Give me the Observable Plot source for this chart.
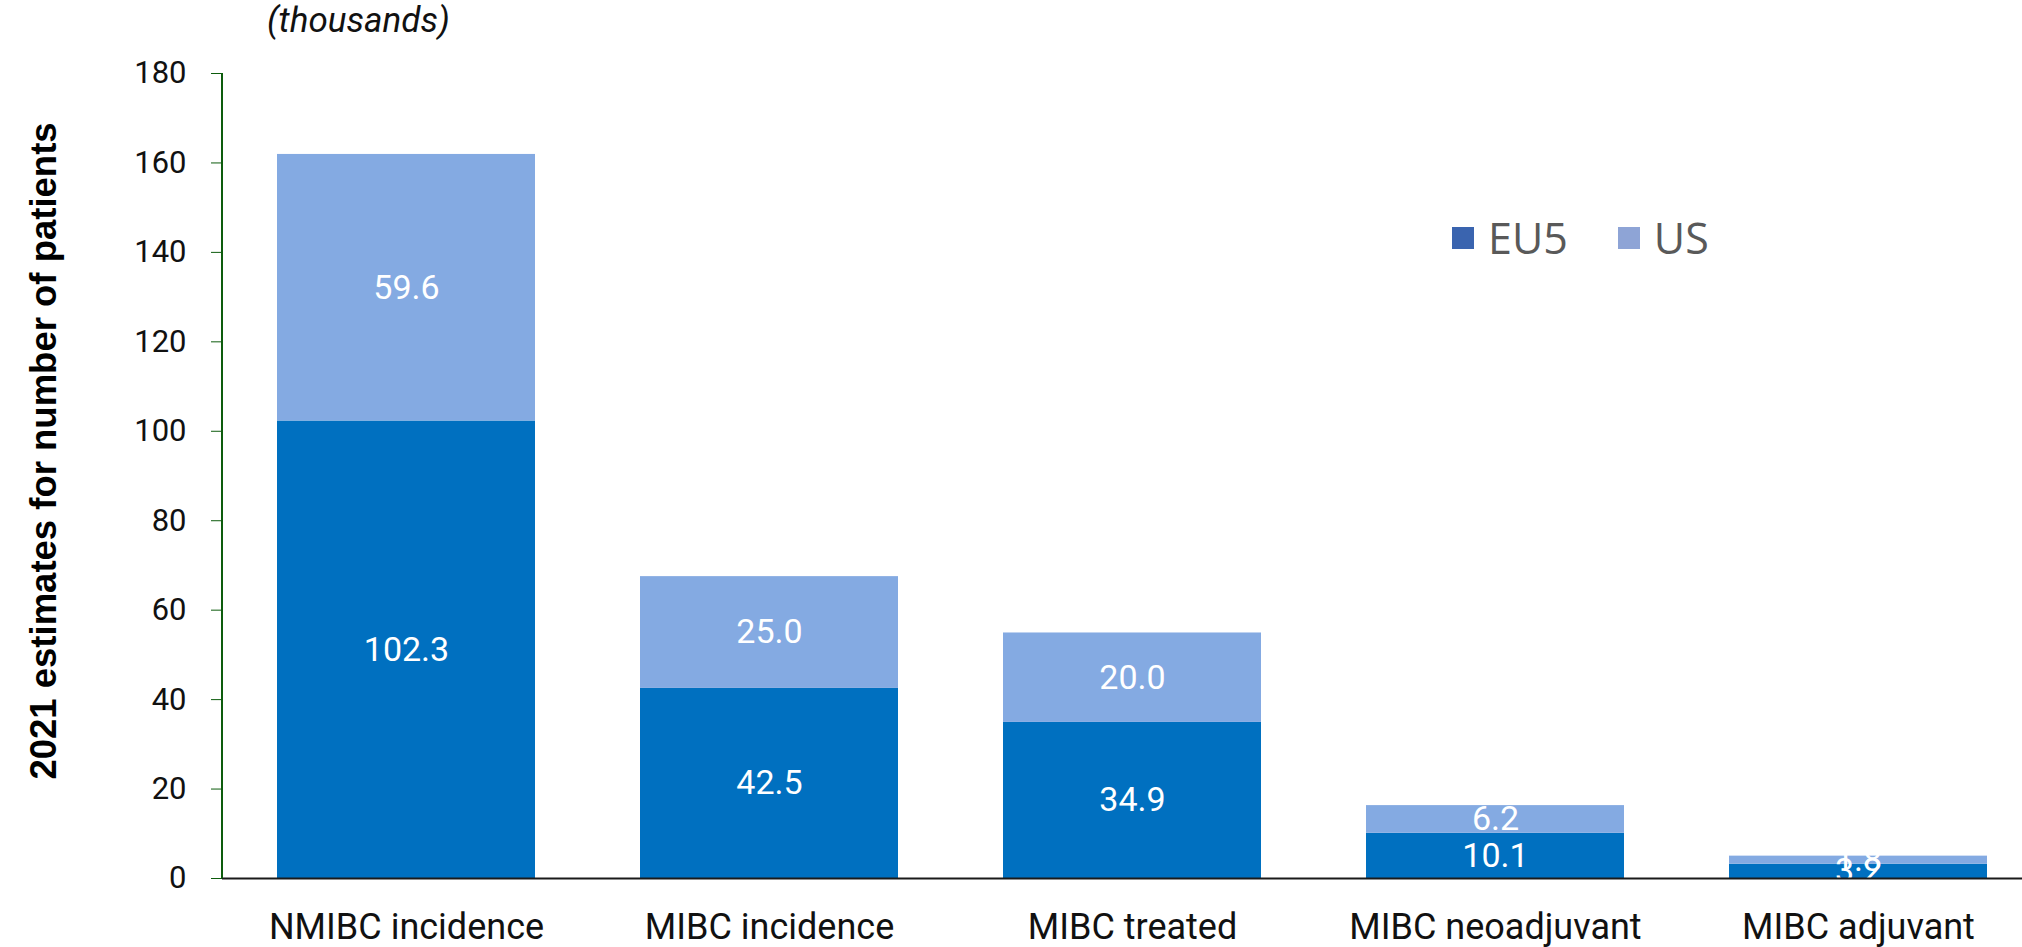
<!DOCTYPE html>
<html>
<head>
<meta charset="utf-8">
<script src="https://cdn.jsdelivr.net/npm/d3@7"></script>
<script src="https://cdn.jsdelivr.net/npm/@observablehq/plot@0.6"></script>
<style>
  html, body { margin: 0; padding: 0; background: #fff; overflow: hidden; }
  #wrap { position: relative; width: 2022px; height: 947px; font-family: Roboto, "Liberation Sans", sans-serif; }
  #chart { position: absolute; left: 0; top: 0; }
  #unit { position: absolute; left: 267px; top: 0px; font-size: 35px; font-style: italic; color: #111; }
  #ytitle { position: absolute; left: 44px; top: 451px; transform: translate(-50%, -50%) rotate(-90deg); white-space: nowrap;
            font-family: "Liberation Sans", Arial, sans-serif; font-weight: bold; font-size: 36.5px; color: #000; }
  #legend { position: absolute; left: 1452px; top: 208px; display: flex; align-items: center; font-family: "Open Sans", "Noto Sans", sans-serif; font-size: 43px; color: #595959; }
  .sw { display: inline-block; width: 22px; height: 22px; margin-right: 14px; }
  .item { display: flex; align-items: center; margin-right: 50px; }
</style>
</head>
<body>
<div id="wrap">
  <div id="chart"></div>
  <div id="unit">(thousands)</div>
  <div id="ytitle">2021 estimates for number of patients</div>
  <div id="legend"></div>
</div>
<script>
const categories = ["NMIBC incidence", "MIBC incidence", "MIBC treated", "MIBC neoadjuvant", "MIBC adjuvant"];
const seriesNames = ["EU5", "US"];
const eu5Values = [102.3, 42.5, 34.9, 10.1, 3.2];
const usValues = [59.6, 25.0, 20.0, 6.2, 1.8];
const yTicks = [0, 20, 40, 60, 80, 100, 120, 140, 160, 180];
const barColors = ["#0070C0", "#84AAE2"];
const legendColors = ["#3A64AF", "#8EA4D6"];

const data = [];
categories.forEach((c, i) => data.push({category: c, series: "EU5", value: eu5Values[i]}));
categories.forEach((c, i) => data.push({category: c, series: "US", value: usValues[i]}));

const plot = Plot.plot({
  width: 2022,
  height: 947,
  marginTop: 73,
  marginBottom: 69,
  marginLeft: 222,
  marginRight: -19,
  style: {fontFamily: "Roboto, sans-serif", background: "transparent"},
  x: {domain: categories, paddingInner: 0.29, paddingOuter: 0.145, label: null},
  y: {domain: [0, 180], label: null},
  color: {domain: seriesNames, range: barColors},
  marks: [
    Plot.barY(data, {x: "category", y: "value", fill: "series", z: "series"}),
    Plot.text(data, Plot.stackY({x: "category", y: "value", z: "series", text: d => d.value.toFixed(1), fill: "white", fontSize: 34})),
    Plot.ruleY([0], {stroke: "#1a1a1a", strokeWidth: 2}),
    (index, scales, values, dimensions) => {
      const line = d3.create("svg:line")
        .attr("x1", dimensions.marginLeft).attr("x2", dimensions.marginLeft)
        .attr("y1", scales.y(180)).attr("y2", scales.y(0))
        .attr("stroke", "#0d5c0d").attr("stroke-width", 2);
      return line.node();
    },
    Plot.axisY({ticks: yTicks, tickSize: 11, tickPadding: 25, stroke: "#0d5c0d", fill: "#111", fontSize: 31, label: null}),
    Plot.axisX({tickSize: 0, tickPadding: 35, fill: "#111", fontSize: 36, label: null})
  ]
});
document.getElementById("chart").appendChild(plot);

const legend = document.getElementById("legend");
seriesNames.forEach((s, i) => {
  const item = document.createElement("div");
  item.className = "item";
  const sw = document.createElement("span");
  sw.className = "sw";
  sw.style.background = legendColors[i];
  item.appendChild(sw);
  item.appendChild(document.createTextNode(s));
  legend.appendChild(item);
});
</script>
</body>
</html>
